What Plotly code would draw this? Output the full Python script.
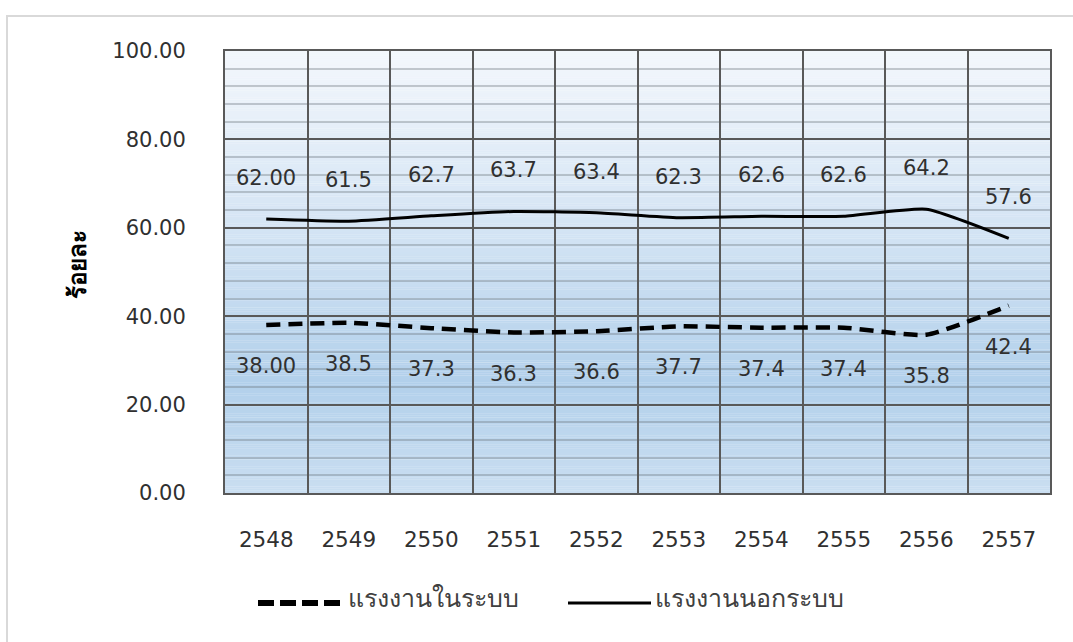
import plotly.graph_objects as go

# Thai labour force shares (percent), Buddhist-era years
years = ["2548", "2549", "2550", "2551", "2552", "2553", "2554", "2555", "2556", "2557"]
formal = [38.00, 38.5, 37.3, 36.3, 36.6, 37.7, 37.4, 37.4, 35.8, 42.4]
informal = [62.00, 61.5, 62.7, 63.7, 63.4, 62.3, 62.6, 62.6, 64.2, 57.6]
formal_text = ["38.00", "38.5", "37.3", "36.3", "36.6", "37.7", "37.4", "37.4", "35.8", "42.4"]
informal_text = ["62.00", "61.5", "62.7", "63.7", "63.4", "62.3", "62.6", "62.6", "64.2", "57.6"]
formal_name = "แรงงานในระบบ"
informal_name = "แรงงานนอกระบบ"
y_title = "ร้อยละ"

W, H = 1073, 642
ML, MR, MT, MB = 225, 23, 51, 149
PW, PH = W - ML - MR, H - MT - MB

FONT = "DejaVu Sans, Tahoma, sans-serif"
GRID = "#595959"
TEXT = "#303030"


def px_x(px):
    return (px - ML) / PW


def px_y(py):
    return (H - MB - py) / PH


fig = go.Figure()

fig.add_trace(go.Scatter(
    x=years, y=formal, mode="lines", name=formal_name,
    line=dict(color="black", width=4.5, dash="14px,8px", shape="spline", smoothing=0.5),
    showlegend=False,
))
fig.add_trace(go.Scatter(
    x=years, y=informal, mode="lines", name=informal_name,
    line=dict(color="black", width=3, shape="spline", smoothing=0.5),
    showlegend=False,
))

# value labels (category axis positions are the category indices)
for i, (v, t) in enumerate(zip(informal, informal_text)):
    fig.add_annotation(x=i, y=v, text=t, showarrow=False, yshift=41,
                       font=dict(family=FONT, size=21, color=TEXT))
for i, (v, t) in enumerate(zip(formal, formal_text)):
    fig.add_annotation(x=i, y=v, text=t, showarrow=False, yshift=-41,
                       font=dict(family=FONT, size=21, color=TEXT))

# vertical gradient fill behind the grid
stops = [(0, (0xca, 0xde, 0xf1)), (25, (0xb2, 0xd0, 0xeb)), (60, (0xd4, 0xe4, 0xf4)), (100, (0xf3, 0xf7, 0xfc))]


def grad(v):
    for (a, ca), (b, cb) in zip(stops[:-1], stops[1:]):
        if a <= v <= b:
            t = (v - a) / (b - a)
            return "rgb(%d,%d,%d)" % tuple(round(ca[k] + (cb[k] - ca[k]) * t) for k in range(3))
    return "rgb(%d,%d,%d)" % stops[-1][1]


step = 0.5
n = int(100 / step)
for k in range(n):
    y0 = k * step
    fig.add_shape(type="rect", xref="paper", yref="y", x0=0, x1=1, y0=y0, y1=y0 + step + 0.05,
                  fillcolor=grad(y0 + step / 2), line=dict(width=0), layer="below")

# outer chart frame
fig.add_shape(type="rect", xref="paper", yref="paper",
              x0=px_x(7), x1=px_x(1090), y0=px_y(16), y1=px_y(700),
              line=dict(color="#d9d9d9", width=2), fillcolor="rgba(0,0,0,0)", layer="below")

# legend
leg_y = px_y(603)
fig.add_shape(type="line", xref="paper", yref="paper", x0=px_x(258), x1=px_x(341), y0=leg_y, y1=leg_y,
              line=dict(color="black", width=6, dash="16px,6px"))
fig.add_annotation(xref="paper", yref="paper", x=px_x(346), y=leg_y, yshift=-12, text=formal_name,
                   showarrow=False, xanchor="left", font=dict(family=FONT, size=25, color="#404040"))
fig.add_shape(type="line", xref="paper", yref="paper", x0=px_x(568), x1=px_x(651), y0=leg_y, y1=leg_y,
              line=dict(color="black", width=3))
fig.add_annotation(xref="paper", yref="paper", x=px_x(653), y=leg_y, yshift=-12, text=informal_name,
                   showarrow=False, xanchor="left", font=dict(family=FONT, size=25, color="#404040"))

# y-axis title
fig.add_annotation(xref="paper", yref="paper", x=px_x(62), y=px_y(265), text="<b>%s</b>" % y_title,
                   showarrow=False, textangle=-90, font=dict(family=FONT, size=24, color="black"))

fig.update_xaxes(
    type="category", range=[-0.5, 9.5], tickson="boundaries",
    showgrid=True, gridcolor=GRID, gridwidth=2,
    showline=True, linecolor=GRID, linewidth=2, mirror=True,
    ticks="", ticklabelstandoff=26,
    tickfont=dict(family=FONT, size=21.5, color=TEXT),
)
fig.update_yaxes(
    range=[0, 100], dtick=20, tickformat=".2f",
    showgrid=True, gridcolor=GRID, gridwidth=2,
    minor=dict(dtick=4, showgrid=True, gridcolor="rgba(110,120,130,0.38)", gridwidth=2),
    showline=True, linecolor=GRID, linewidth=2, mirror=True,
    zeroline=False, ticks="", ticklabelstandoff=33,
    tickfont=dict(family=FONT, size=21, color=TEXT),
)

fig.update_layout(
    width=W, height=H,
    margin=dict(l=ML, r=MR, t=MT, b=MB),
    paper_bgcolor="white", plot_bgcolor="white",
    showlegend=False,
)

fig.write_html("out.html")
